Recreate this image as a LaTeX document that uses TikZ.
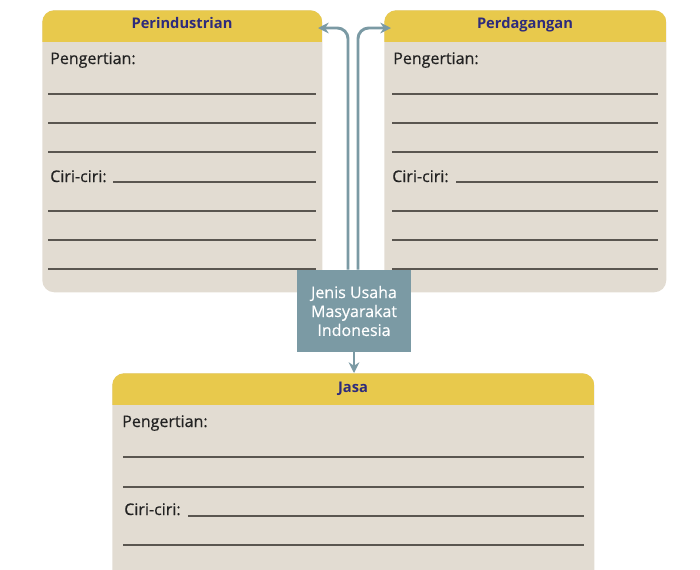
\documentclass[tikz,border=0pt]{standalone}
\usepackage{fontspec}
\setmainfont{Open Sans}
\newfontfamily\medfont[FakeBold=0.5]{Open Sans}
\usetikzlibrary{arrows.meta}
\definecolor{hdr}{HTML}{E8C94C}
\definecolor{bodyc}{HTML}{E2DCD2}
\definecolor{hdrtext}{HTML}{2E2B7C}
\definecolor{steel}{HTML}{7B9AA4}
\definecolor{linec}{HTML}{5A5650}
\definecolor{txt}{HTML}{222222}
\begin{document}
\begin{tikzpicture}[x=0.75pt,y=-0.75pt,
  card/.style={fill=bodyc, rounded corners=9pt, inner sep=0pt, anchor=north west,
    path picture={\fill[hdr, sharp corners] (path picture bounding box.north west) rectangle ([yshift=-24pt]path picture bounding box.north east);}},
  title/.style={font=\bfseries\fontsize{11}{13}\selectfont, text=hdrtext, inner sep=0pt, anchor=base},
  lbl/.style={font=\medfont\fontsize{12}{14}\selectfont, text=txt, anchor=base west, inner sep=0pt},
  wline/.style={draw=linec, line width=0.8pt},
  conn/.style={draw=steel, line width=2.2pt, rounded corners=8pt, -{Stealth[length=8pt,width=8pt]}},
  hub/.style={fill=steel, text=white, minimum width=85.5pt, minimum height=61.5pt, inner sep=0pt, align=center,
    font=\medfont\fontsize{12}{14.2}\selectfont}
]
\useasboundingbox (0,0) rectangle (700,569);
\clip (0,0) rectangle (700,569);
% cards
\node[card, minimum width=210pt, minimum height=211.5pt] (ind) at (42,10) {};
\node[card, minimum width=211.5pt, minimum height=211.5pt] (dag) at (384,10) {};
\node[card, minimum width=361.5pt, minimum height=180pt] (jasa) at (112,373) {};
% titles
\node[title] (tind) at (182,28) {Perindustrian};
\node[title] (tdag) at (525,28) {Perdagangan};
\node[title] (tjasa) at (353,392) {Jasa};
% left card contents
\node[lbl] (pind) at (50,64) {Pengertian:};
\draw[wline] (48,94) -- (316,94);
\draw[wline] (48,123) -- (316,123);
\draw[wline] (48,152) -- (316,152);
\node[lbl] (cind) at (50,182) {Ciri-ciri:};
\draw[wline] (113,182) -- (316,182);
\draw[wline] (48,211) -- (316,211);
\draw[wline] (48,240) -- (316,240);
\draw[wline] (48,269) -- (316,269);
% right card contents
\node[lbl] (pdag) at (393,64) {Pengertian:};
\draw[wline] (392,94) -- (658,94);
\draw[wline] (392,123) -- (658,123);
\draw[wline] (392,152) -- (658,152);
\node[lbl] (cdag) at (392,182) {Ciri-ciri:};
\draw[wline] (456,182) -- (658,182);
\draw[wline] (392,211) -- (658,211);
\draw[wline] (392,240) -- (658,240);
\draw[wline] (392,269) -- (658,269);
% bottom card contents
\node[lbl] (pjasa) at (122,427) {Pengertian:};
\draw[wline] (123,457) -- (584,457);
\draw[wline] (123,487) -- (584,487);
\node[lbl] (cjasa) at (124,515) {Ciri-ciri:};
\draw[wline] (188,516) -- (584,516);
\draw[wline] (123,545) -- (584,545);
% hub
\node[hub] (hub) at (354,311) {Jenis Usaha\\Masyarakat\\Indonesia};
% connectors
\coordinate (lt) at (318,28);
\coordinate (rt) at (391,28);
\draw[conn] ([xshift=-4.5pt]hub.north) -- ([xshift=-4.5pt]hub.north |- lt) -- (lt);
\draw[conn] ([xshift=3pt]hub.north) -- ([xshift=3pt]hub.north |- rt) -- (rt);
\draw[conn] (hub.south) -- (hub.south |- jasa.north);
\end{tikzpicture}
\end{document}
